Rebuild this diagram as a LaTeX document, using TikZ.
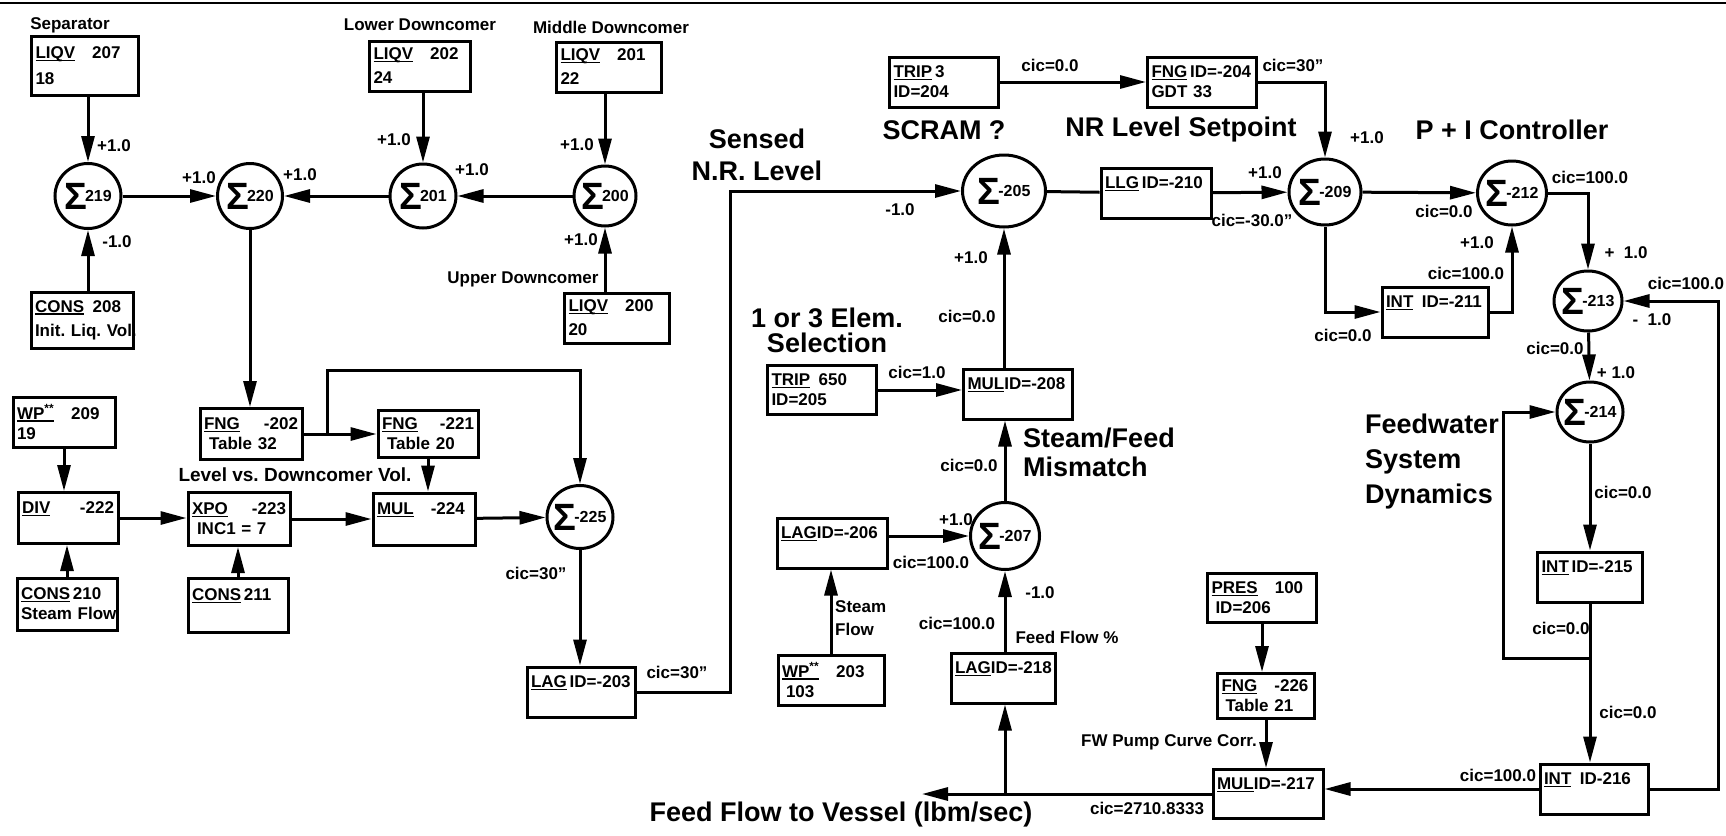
\documentclass[tikz,border=0pt]{standalone}
\usepackage{fontspec}
\setmainfont{Liberation Sans}
\usetikzlibrary{arrows.meta,shapes.geometric}

\newsavebox\ukeybox
\newcommand\ukey[1]{\sbox\ukeybox{#1}\rlap{\rule[-2.5pt]{\wd\ukeybox}{1.6pt}}\usebox\ukeybox}
\newcommand\sig[1]{\bfseries{\fontsize{38}{38}\selectfont Σ}\kern-2pt\raisebox{8pt}{\fontsize{16}{16}\selectfont #1}}
\newcommand\lblfont{\fontsize{17}{20}\selectfont\bfseries\frenchspacing}
\newcommand\bigfont[1][30]{\fontsize{27}{#1}\selectfont\bfseries\frenchspacing}

\begin{document}
\begin{tikzpicture}[x=1pt, y=-1pt,
        box/.style={
            draw,
            line width=3pt,
            text width=#1,
            inner xsep=4pt,
            inner ysep=2pt,
            minimum height=50pt,
            align=left,
            font=\lblfont
        },
        box/.default=98pt,
        sumnode/.style={ellipse, draw, line width=3pt, inner sep=0pt},
        signal/.style={-{Triangle[length=26pt,width=13pt]}, line width=3pt},
        wire/.style={line width=3pt},
        lbl/.style={font=\lblfont, inner sep=0pt},
        title/.style={font=\bigfont, inner sep=0pt, align=left}
    ]
        \useasboundingbox (0,0) rectangle (1726,835);
        \draw[line width=2.5pt] (0,3) -- (1726,3);

        % liquid volume inputs
        \node[box=99pt, minimum height=59pt] (liqvA) at (85,66) {\ukey{LIQV}\quad 207\\[6pt]18};
        \node[box=94pt, minimum height=56pt] (consA) at (82,320) {\ukey{CONS}\enspace 208\\[4pt]\mbox{Init. Liq. Vol.}};
        \node[box=93pt] (liqvB) at (420,66) {\ukey{LIQV}\quad 202\\[4pt]24};
        \node[box=97pt] (liqvC) at (609,67) {\ukey{LIQV}\quad 201\\[4pt]22};
        \node[box=97pt] (liqvD) at (617,318) {\ukey{LIQV}\quad 200\\[4pt]20};

        \node[sumnode, minimum width=66pt, minimum height=65pt, label={center:\sig{219}}] (s219) at (88,196) {};
        \node[sumnode, minimum width=65pt, minimum height=65pt, label={center:\sig{220}}] (s220) at (250,196) {};
        \node[sumnode, minimum width=66pt, minimum height=64pt, label={center:\sig{201}}] (s201) at (423,196) {};
        \node[sumnode, minimum width=62pt, minimum height=60pt, label={center:\sig{200}}] (s200) at (605,196) {};
        \node[sumnode, minimum width=66pt, minimum height=63pt, label={center:\sig{-225}}] (s225) at (580,517) {};

        \node[box=94pt] (wpA) at (64,422) {\ukey{WP\textsuperscript{**}}\quad 209\\19};
        \node[box=92pt, minimum height=51pt] (divA) at (68,518) {\ukey{DIV}\hfill -222\\\mbox{}};
        \node[box=92pt, minimum height=52pt] (consB) at (67,604) {\ukey{CONS}\,210\\\mbox{Steam Flow}};
        \node[box=94pt, minimum height=53pt] (xpoA) at (239,519) {\ukey{XPO}\hfill -223\\\hspace*{5pt}INC1 = 7};
        \node[box=92pt, minimum height=54pt] (consC) at (238,605) {\ukey{CONS}\,211\\\mbox{}};
        \node[box=94pt, minimum height=51pt] (fngA) at (251,434) {\ukey{FNG}\hfill -202\\\hspace*{5pt}Table 32};
        \node[box=92pt, minimum height=47pt] (fngB) at (428,434) {\ukey{FNG}\hfill -221\\\hspace*{5pt}Table 20};
        \node[box=94pt, minimum height=52pt] (mulA) at (424,519) {\ukey{MUL}\quad -224\\\mbox{}};
        \node[box=100pt] (lagA) at (581,692) {\mbox{\ukey{LAG}\,ID=-203}\\\mbox{}};

        % level controller side
        \node[box=101pt] (trip3) at (944,82) {\ukey{TRIP}\,3\\ID=204};
        \node[box=101pt] (fngC) at (1202,82) {\mbox{\ukey{FNG}\,ID=-204}\\GDT 33};
        \node[box=102pt] (llgA) at (1156,193) {\mbox{\ukey{LLG}\,ID=-210}\\\mbox{}};
        \node[box=98pt] (intA) at (1435,312) {\mbox{\ukey{INT}\enspace ID=-211}\\\mbox{}};
        \node[box=101pt, minimum height=49pt] (tripB) at (822,390) {\ukey{TRIP}\enspace 650\\ID=205};
        \node[box=101pt] (mulB) at (1018,394) {\mbox{\ukey{MUL}ID=-208}\\\mbox{}};
        \node[box=102pt] (lagB) at (832,543) {\mbox{\ukey{LAG}ID=-206}\\\mbox{}};
        \node[box=98pt] (wpB) at (831,680) {\ukey{WP\textsuperscript{**}}\quad 203\\\hspace*{4pt}103};
        \node[box=96pt] (lagC) at (1003,678) {\mbox{\ukey{LAG}ID=-218}\\\mbox{}};
        \node[box=101pt, minimum height=49pt] (presA) at (1262,598) {\ukey{PRES}\quad 100\\\hspace*{4pt}ID=206};
        \node[box=89pt, minimum height=45pt] (fngD) at (1266,696) {\ukey{FNG}\quad -226\\\hspace*{4pt}Table 21};
        \node[box=102pt, minimum height=49pt] (mulC) at (1268,794) {\mbox{\ukey{MUL}ID=-217}\\\mbox{}};
        \node[box=97pt] (intB) at (1590,577) {\mbox{\ukey{INT}\,ID=-215}\\\mbox{}};
        \node[box=100pt] (intC) at (1594,789) {\mbox{\ukey{INT}\enspace ID-216}\\\mbox{}};

        \node[sumnode, minimum width=83pt, minimum height=72pt, label={center:\sig{-205}}] (s205) at (1004,191) {};
        \node[sumnode, minimum width=72pt, minimum height=66pt, label={center:\sig{-209}}] (s209) at (1325,192) {};
        \node[sumnode, minimum width=69pt, minimum height=64pt, label={center:\sig{-212}}] (s212) at (1512,193) {};
        \node[sumnode, minimum width=68pt, minimum height=60pt, label={center:\sig{-213}}] (s213) at (1588,301) {};
        \node[sumnode, minimum width=66pt, minimum height=60pt, label={center:\sig{-214}}] (s214) at (1590,412) {};
        \node[sumnode, minimum width=69pt, minimum height=67pt, label={center:\sig{-207}}] (s207) at (1005,536) {};

        \coordinate (bendA) at (730,191);
        \coordinate (brA) at (327,434);
        \coordinate (topD) at (580,370);
        \coordinate (bendB) at (1718,301);
        \coordinate (fbA) at (1590,658);
        \coordinate (fbB) at (1503,658);
        \coordinate (outFeed) at (922,794);
        \coordinate (jFeed) at (1005,794);

        \draw[signal] (liqvA.south -| s219) -- (s219);
        \draw[signal] (consA.north -| s219) -- (s219);
        \draw[signal] (s219) -- (s220);
        \draw[signal] (s201) -- (s220);
        \draw[signal] (liqvB.south -| s201) -- (s201);
        \draw[signal] (s200) -- (s201);
        \draw[signal] (liqvC.south -| s200) -- (s200);
        \draw[signal] (liqvD.north -| s200) -- (s200);
        \draw[signal] (s220) -- (s220 |- fngA.north);
        \draw[signal] (fngA) -- (fngB);
        \draw[signal] (brA) |- (topD) -- (s225);
        \draw[signal] (fngB) -- (fngB |- mulA.north);
        \draw[signal] (wpA) -- (wpA |- divA.north);
        \draw[signal] (consB) -- (consB |- divA.south);
        \draw[signal] (divA) -- (divA -| xpoA.west);
        \draw[signal] (consC) -- (consC |- xpoA.south);
        \draw[signal] (xpoA) -- (mulA);
        \draw[signal] (mulA) -- (s225);
        \draw[signal] (s225) -- (s225 |- lagA.north);
        \draw[signal] (lagA) -| (bendA) -- (s205);

        \draw[signal] (trip3) -- (fngC);
        \draw[signal] (fngC) -| (s209);
        \draw[wire] (s205) -- (llgA);
        \draw[signal] (llgA) -- (s209);
        \draw[signal] (s209) -- (s212);
        \draw[signal] (s209) |- (intA);
        \draw[signal] (intA) -| (s212);
        \draw[signal] (s212) -| (s213);
        \draw[signal] (intC) -| (bendB) -- (s213);
        \draw[signal] (s213) -- (s214);
        \draw[signal] (s214) -- (intB);
        \draw[signal] (intB) -- (intB |- intC.north);
        \draw[signal] (fbA) -- (fbB) |- (s214);
        \draw[signal] (intC.west) -- (intC.west -| mulC.east);
        \draw[signal] (presA) -- (presA |- fngD.north);
        \draw[signal] (fngD) -- (fngD |- mulC.north);
        \draw[signal] (mulC) -- (outFeed);
        \draw[signal] (jFeed) -- (jFeed |- lagC.south);
        \draw[signal] (lagC.north -| s207) -- (s207);
        \draw[signal] (lagB.east |- s207) -- (s207);
        \draw[signal] (wpB) -- (wpB |- lagB.south);
        \draw[signal] (s207) -- (s207 |- mulB.south);
        \draw[signal] (tripB) -- (tripB -| mulB.west);
        \draw[signal] (mulB.north -| s205) -- (s205);

        % titles
        \node[title, align=center, font={\bigfont[32]}] (tSensed) at (757,155) {Sensed\\N.R. Level};
        \node[title] (tScram) at (944,130) {SCRAM ?};
        \node[title] (tSetpt) at (1181,130) {NR Level Setpoint};
        \node[title] (tPI) at (1512,130) {P + I Controller};
        \node[title, align=center, font={\bigfont[25]}] (tElem) at (827,330) {1 or 3 Elem.\\Selection};
        \node[title, anchor=west, font={\bigfont[29]}] (tMis) at (1023,452) {Steam/Feed\\Mismatch};
        \node[title, anchor=west, font={\bigfont[35]}] (tFws) at (1365,462) {Feedwater\\System\\Dynamics};
        \node[title] (tFeed) at (841,815) {Feed Flow to Vessel (lbm/sec)};

        \node[lbl] (nSep) at (70,25) {Separator};
        \node[lbl] (nLow) at (420,25) {Lower Downcomer};
        \node[lbl] (nMid) at (611,27) {Middle Downcomer};
        \node[lbl] (nUpp) at (523,279) {Upper Downcomer};
        \node[lbl, font=\fontsize{19}{20}\selectfont\bfseries\frenchspacing] (nLvl) at (295,475) {Level vs. Downcomer Vol.};
        \node[lbl, align=left, anchor=west, font=\fontsize{17}{23}\selectfont\bfseries] (nStm) at (835,618) {Steam\\Flow};
        \node[lbl] (nFFp) at (1067,637) {Feed Flow \%};
        \node[lbl] (nPump) at (1169,742) {FW Pump Curve Corr.};

        % gains and initial conditions
        \node[lbl] (g1) at (114,146) {+1.0};
        \node[lbl] (g2) at (117,242) {-1.0};
        \node[lbl] (g3) at (199,178) {+1.0};
        \node[lbl] (g4) at (300,175) {+1.0};
        \node[lbl] (g5) at (394,140) {+1.0};
        \node[lbl] (g6) at (472,170) {+1.0};
        \node[lbl] (g7) at (577,145) {+1.0};
        \node[lbl] (g8) at (581,240) {+1.0};
        \node[lbl] (c1) at (536,573) {cic=30''};
        \node[lbl] (c2) at (677,672) {cic=30''};
        \node[lbl] (g9) at (900,210) {-1.0};
        \node[lbl] (g10) at (971,258) {+1.0};
        \node[lbl] (c3) at (967,316) {cic=0.0};
        \node[lbl] (c4) at (1050,65) {cic=0.0};
        \node[lbl] (c5) at (1293,65) {cic=30''};
        \node[lbl] (g11) at (1367,138) {+1.0};
        \node[lbl] (g12) at (1265,173) {+1.0};
        \node[lbl] (c6) at (1252,220) {cic=-30.0''};
        \node[lbl] (c7) at (1444,211) {cic=0.0};
        \node[lbl] (c8) at (1343,335) {cic=0.0};
        \node[lbl] (g13) at (1477,243) {+1.0};
        \node[lbl] (c9) at (1466,273) {cic=100.0};
        \node[lbl] (c10) at (1590,177) {cic=100.0};
        \node[lbl] (g14) at (1626,253) {+\ \ 1.0};
        \node[lbl] (c11) at (1686,283) {cic=100.0};
        \node[lbl] (g15) at (1652,320) {-\ \ 1.0};
        \node[lbl] (c12) at (1555,348) {cic=0.0};
        \node[lbl] (g16) at (1616,373) {+\ 1.0};
        \node[lbl] (c13) at (1623,492) {cic=0.0};
        \node[lbl] (c14) at (1561,628) {cic=0.0};
        \node[lbl] (c15) at (1628,712) {cic=0.0};
        \node[lbl] (c16) at (1498,775) {cic=100.0};
        \node[lbl] (c17) at (917,372) {cic=1.0};
        \node[lbl] (c18) at (969,465) {cic=0.0};
        \node[lbl] (g17) at (956,520) {+1.0};
        \node[lbl] (c19) at (931,562) {cic=100.0};
        \node[lbl] (g18) at (1040,593) {-1.0};
        \node[lbl] (c20) at (957,623) {cic=100.0};
        \node[lbl] (c21) at (1147,808) {cic=2710.8333};
    \end{tikzpicture}
\end{document}
